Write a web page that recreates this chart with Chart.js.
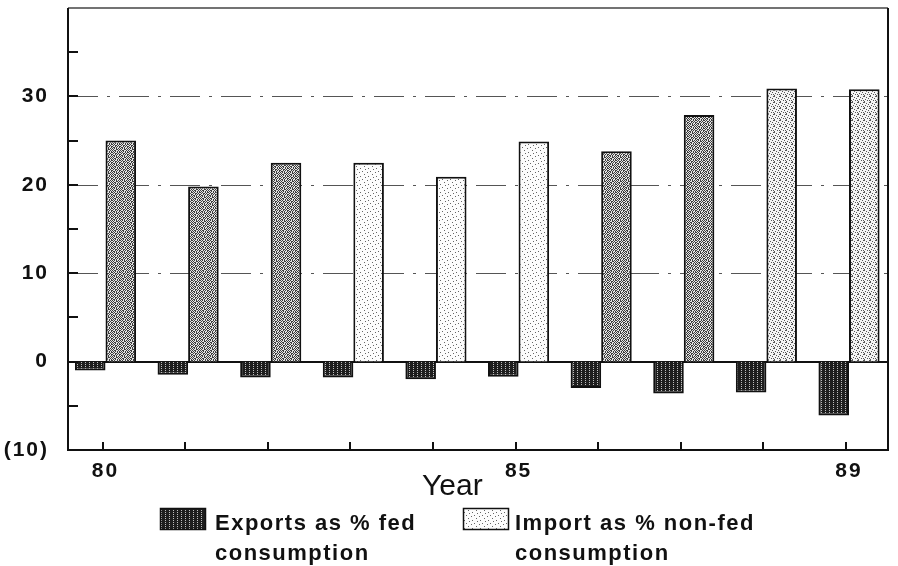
<!DOCTYPE html>
<html>
<head>
<meta charset="UTF-8">
<title>Exports and imports as % of consumption</title>
<script src="https://cdn.jsdelivr.net/npm/chart.js@4.4.1/dist/chart.umd.min.js"></script>
<style>
  html, body { margin: 0; padding: 0; background: #fff; }
  #wrap { width: 898px; height: 566px; }
</style>
</head>
<body>
<div id="wrap"><canvas id="chart" width="898" height="566"></canvas></div>
<script>
// values (percent)
var years       = [80, 81, 82, 83, 84, 85, 86, 87, 88, 89];
var exportsPct  = [-1.0, -1.5, -1.8, -1.8, -2.0, -1.7, -3.0, -3.6, -3.5, -6.1];
var importsPct  = [25.0, 19.8, 22.5, 22.5, 20.9, 24.9, 23.8, 27.9, 30.9, 30.8];
var shownYears  = [80, 85, 89];
var yLabelVals  = [30, 20, 10, 0, -10];
var yLabelText  = ['30', '20', '10', '0', '(10)'];
var gridVals    = [10, 20, 30];
var legendLines = [['Exports as % fed', 'consumption'], ['Import as % non-fed', 'consumption']];

var canvas = document.getElementById('chart');
var ctx = canvas.getContext('2d');
var FONT = '"Liberation Sans", Arial, sans-serif';

// small tiles to imitate the printed screen tones ('x' = dark dot)
function makePattern(rows, bg, fg) {
    var t = document.createElement('canvas');
    t.width = rows[0].length; t.height = rows.length;
    var g = t.getContext('2d');
    g.fillStyle = bg;
    g.fillRect(0, 0, t.width, t.height);
    g.fillStyle = fg;
    rows.forEach(function (r, j) {
        for (var i = 0; i < r.length; i++) {
            if (r[i] === 'x') g.fillRect(i, j, 1, 1);
        }
    });
    return ctx.createPattern(t, 'repeat');
}

var exportFill = makePattern(['x.xx', 'xxxx', 'x.xx', 'xxxx'], '#bdbdbd', '#1e1e1e');
var denseFill = makePattern([
    'x.x..x.x',
    '.x.xx.x.',
    'x..x.x.x',
    '.xx.x..x',
    'x.x.x.x.',
    '.x..xx.x',
    'x.xx..x.',
    '.x.x.x.x'
], '#e4e4e4', '#3c3c3c');
var mediumFill = makePattern([
    'x....x',
    '..x...',
    '....x.',
    '.x....',
    '...x.x',
    'x.....'
], '#f4f4f4', '#555');
var lightFill = makePattern([
    'x.......',
    '.....x..',
    '........',
    '..x.....',
    '.......x',
    '........',
    '....x...',
    '........'
], '#fcfcfc', '#666');

// which tone each import bar was printed with
var importTone = ['dense', 'dense', 'dense', 'light', 'light', 'light', 'dense', 'dense', 'medium', 'medium'];
var toneFill = { dense: denseFill, medium: mediumFill, light: lightFill };

var framePlugin = {
    id: 'frame',
    beforeDraw: function (chart) {
        chart.ctx.letterSpacing = '2px';
    },
    beforeDatasetsDraw: function (chart) {
        var c = chart.ctx, a = chart.chartArea, y = chart.scales.y;
        c.save();
        c.strokeStyle = '#555';
        c.lineWidth = 1.2;
        c.setLineDash([30, 9, 3, 9]);
        gridVals.forEach(function (v) {
            var py = Math.round(y.getPixelForValue(v)) + 0.5;
            c.beginPath(); c.moveTo(a.left, py); c.lineTo(a.right, py); c.stroke();
        });
        c.setLineDash([]);
        c.strokeStyle = '#111';
        c.lineWidth = 2;
        var z = Math.round(y.getPixelForValue(0));
        c.beginPath(); c.moveTo(a.left, z); c.lineTo(a.right, z); c.stroke();
        c.restore();
    },
    afterDatasetsDraw: function (chart) {
        var c = chart.ctx, a = chart.chartArea, x = chart.scales.x, y = chart.scales.y;
        c.save();
        c.letterSpacing = '0px';
        // frame
        c.strokeStyle = '#444';
        c.lineWidth = 1.5;
        c.beginPath(); c.moveTo(a.left, a.top); c.lineTo(a.right, a.top); c.stroke();
        c.strokeStyle = '#111';
        c.lineWidth = 2;
        c.beginPath();
        c.moveTo(a.left, a.top); c.lineTo(a.left, a.bottom); c.lineTo(a.right, a.bottom); c.lineTo(a.right, a.top);
        c.stroke();
        // tick marks point into the plot
        for (var v = -5; v < 40; v += 5) {
            var py = Math.round(y.getPixelForValue(v));
            c.beginPath(); c.moveTo(a.left, py); c.lineTo(a.left + 10, py); c.stroke();
        }
        years.forEach(function (yr) {
            var px = Math.round(x.getPixelForValue(yr)) - 3;
            c.beginPath(); c.moveTo(px, a.bottom); c.lineTo(px, a.bottom - 8); c.stroke();
        });
        // axis title
        c.fillStyle = '#111';
        c.font = '30px ' + FONT;
        c.textAlign = 'left';
        c.textBaseline = 'alphabetic';
        c.fillText('Year', 422, 495);
        // legend
        var fills = [exportFill, lightFill];
        var boxX = [160, 463];
        var textX = [215, 515];
        c.letterSpacing = '1.5px';
        c.font = 'bold 22px ' + FONT;
        for (var i = 0; i < 2; i++) {
            c.fillStyle = fills[i];
            c.fillRect(boxX[i], 508, 45, 21);
            c.lineWidth = 1.5;
            c.strokeStyle = '#111';
            c.strokeRect(boxX[i] + 0.5, 508.5, 45, 21);
            c.fillStyle = '#111';
            c.fillText(legendLines[i][0], textX[i], 530);
            c.fillText(legendLines[i][1], textX[i], 560);
        }
        c.restore();
    },
    afterDraw: function (chart) {
        chart.ctx.letterSpacing = '0px';
    }
};

function yearData(vals) {
    return years.map(function (yr, i) { return { x: yr, y: vals[i] }; });
}

new Chart(ctx, {
    type: 'bar',
    data: {
        datasets: [{
            label: legendLines[0].join(' '),
            data: yearData(exportsPct),
            backgroundColor: exportFill,
            borderColor: '#111',
            borderWidth: 2
        }, {
            label: legendLines[1].join(' '),
            data: yearData(importsPct),
            backgroundColor: importTone.map(function (t) { return toneFill[t]; }),
            borderColor: '#111',
            borderWidth: 2
        }]
    },
    options: {
        responsive: false,
        animation: false,
        devicePixelRatio: 1,
        layout: { padding: { top: 8, right: 10, left: 0, bottom: 0 } },
        categoryPercentage: 0.74,
        barPercentage: 1,
        plugins: { legend: { display: false }, tooltip: { enabled: false } },
        scales: {
            x: {
                type: 'linear',
                offset: false,
                min: 79.546,
                max: 89.472,
                grid: { display: false, drawTicks: false, offset: false },
                border: { display: false },
                ticks: {
                    stepSize: 1,
                    includeBounds: false,
                    autoSkip: false,
                    maxRotation: 0,
                    padding: 9,
                    color: '#111',
                    font: { family: FONT, size: 21, weight: 'bold' },
                    callback: function (v) {
                        for (var i = 0; i < shownYears.length; i++) {
                            if (Math.abs(v - shownYears[i]) < 1e-6) return String(shownYears[i]);
                        }
                        return '';
                    }
                },
                afterFit: function (s) {
                    s.height = 116;
                    s.paddingLeft = 0;
                    s.paddingRight = 0;
                }
            },
            y: {
                min: -10,
                max: 40,
                grid: { display: false, drawTicks: false },
                border: { display: false },
                ticks: {
                    stepSize: 5,
                    autoSkip: false,
                    padding: 19,
                    color: '#111',
                    font: { family: FONT, size: 21, weight: 'bold' },
                    callback: function (v) {
                        var k = yLabelVals.indexOf(v);
                        return k >= 0 ? yLabelText[k] : '';
                    }
                },
                afterFit: function (s) {
                    s.width = 68;
                    s.paddingTop = 0;
                    s.paddingBottom = 0;
                }
            }
        }
    },
    plugins: [framePlugin]
});
</script>
</body>
</html>
